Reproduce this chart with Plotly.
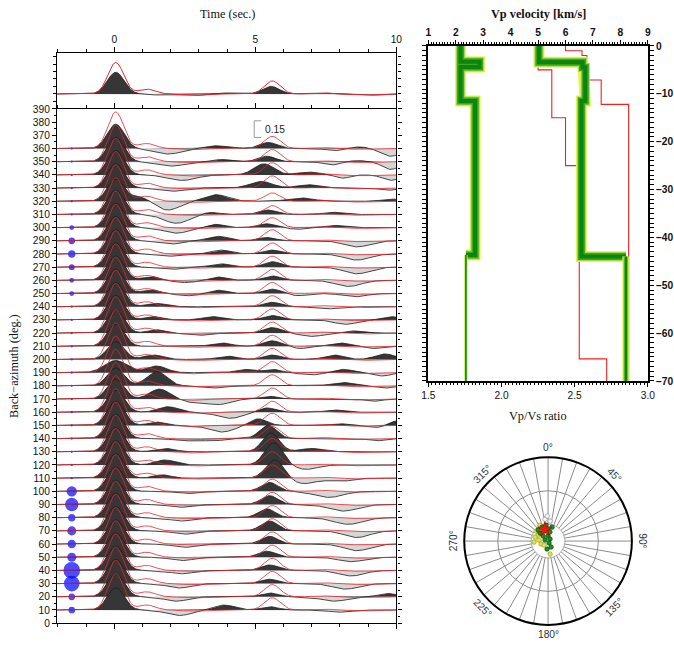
import numpy as np
import plotly.graph_objects as go

# Layout positions below are given in the coordinates of the final 674x648 picture;
# the page shows the figure behind an 8 px body margin inside a 690x664 frame, so
# positions are mapped into figure pixels before use.
W, H = 674, 648
BODY = 8
KX, KY = 690 / 674, 664 / 648
SANS = "Liberation Sans"
SERIF = "Liberation Serif"


def px(x):
    return (x * KX - BODY) / W


def py(y):
    return 1 - (y * KY - BODY) / H


def fs(size):
    return size * KX


# ---------------- receiver-function gather ----------------
T0, T1 = -2.03, 10.0
S = 84.0  # back-azimuth degrees per unit RF amplitude

baz = [360, 350, 340, 330, 320, 310, 300, 290, 280, 270, 260, 250, 240, 230,
       220, 210, 200, 190, 180, 170, 160, 150, 140, 130, 120, 110, 100, 90,
       80, 70, 60, 50, 40, 30, 20, 10]
p_amp = [0.22, 0.22, 0.22, 0.22, 0.20, 0.22, 0.22, 0.22, 0.22, 0.22, 0.22, 0.22,
         0.22, 0.22, 0.21, 0.20, 0.16, 0.11, 0.16, 0.18, 0.20, 0.22, 0.22, 0.22,
         0.22, 0.22, 0.22, 0.22, 0.22, 0.22, 0.22, 0.22, 0.22, 0.22, 0.21, 0.20]
p_width = [0.3] * 17 + [0.4] + [0.3] * 18
p_time = 0.05

# converted / multiple phases on each trace
phase_baz = [360, 360, 360, 360, 360, 360,
             350, 350, 350, 350, 350, 350,
             340, 340, 340, 340, 340,
             330, 330, 330, 330,
             320, 320, 320, 320, 320,
             310, 310, 310, 310,
             300, 300, 300, 300, 300,
             290, 290, 290, 290,
             280, 280, 280, 280,
             270, 270, 270, 270,
             260, 260, 260, 260, 260,
             250, 250, 250, 250, 250, 250,
             240, 240, 240,
             230, 230, 230, 230, 230,
             220, 220, 220, 220, 220,
             210, 210, 210, 210, 210,
             200, 200, 200, 200, 200,
             190, 190, 190, 190, 190, 190,
             180, 180, 180, 180,
             170, 170, 170, 170, 170,
             160, 160, 160, 160,
             150, 150, 150, 150, 150, 150,
             140, 140, 140, 140,
             130, 130, 130,
             120, 120, 120,
             110, 110, 110, 110,
             100, 100, 100,
             90, 90, 90,
             80, 80, 80,
             70, 70, 70,
             60, 60, 60,
             50, 50, 50,
             40, 40, 40,
             30, 30, 30,
             20, 20, 20, 20,
             10, 10, 10, 10]
phase_time = [1.9, 3.6, 5.45, 7.8, 8.7, 9.8,
              2.0, 3.8, 5.4, 7.7, 8.6, 9.8,
              2.4, 5.3, 6.9, 8.1, 9.8,
              2.0, 5.2, 6.9, 9.7,
              0.9, 1.9, 3.6, 6.6, 9.8,
              2.2, 3.4, 5.45, 7.7,
              2.2, 3.6, 5.4, 6.5, 7.8,
              2.0, 3.7, 5.4, 8.6,
              2.0, 3.8, 5.6, 8.6,
              2.0, 3.8, 5.6, 8.6,
              1.3, 2.5, 3.7, 5.6, 8.3,
              1.3, 2.6, 3.7, 5.6, 6.5, 8.5,
              1.5, 5.6, 7.5,
              1.4, 3.5, 5.6, 8.2, 9.8,
              1.5, 3.0, 5.6, 7.0, 8.5,
              3.8, 5.6, 6.6, 8.0, 9.2,
              1.4, 4.0, 5.6, 7.8, 9.6,
              1.5, 4.6, 5.6, 7.0, 8.1, 9.5,
              1.5, 3.5, 8.1, 9.6,
              1.6, 2.8, 3.7, 5.5, 9.2,
              1.9, 4.1, 5.4, 7.8,
              1.5, 3.8, 5.1, 8.0, 9.3, 9.95,
              2.5, 3.5, 5.45, 9.3,
              1.8, 5.55, 7.0,
              1.8, 5.65, 6.8,
              1.7, 5.7, 6.7, 8.0,
              2.6, 5.5, 7.6,
              2.4, 5.5, 8.1,
              2.4, 5.4, 8.3,
              2.5, 5.5, 8.6,
              2.5, 5.5, 8.6,
              2.4, 5.4, 8.4,
              2.4, 5.5, 8.4,
              2.3, 5.5, 8.2,
              2.2, 5.5, 7.8, 9.7,
              2.3, 3.9, 5.5, 8.0]
phase_amp = [-0.05, 0.025, 0.055, -0.02, 0.015, -0.07,
             -0.04, 0.02, 0.05, -0.03, 0.01, -0.07,
             -0.05, 0.10, 0.025, -0.03, -0.05,
             -0.03, 0.06, 0.03, -0.02,
             0.04, -0.08, 0.06, 0.03, 0.02,
             -0.08, 0.02, 0.04, 0.02,
             -0.05, 0.03, 0.035, -0.015, 0.02,
             -0.03, 0.04, 0.03, -0.055,
             -0.02, 0.035, 0.035, -0.055,
             -0.02, 0.03, 0.05, -0.06,
             0.035, -0.02, 0.03, 0.04, -0.055,
             0.035, -0.02, 0.03, 0.04, -0.02, -0.03,
             0.03, 0.04, -0.02,
             0.03, 0.03, 0.04, -0.04, 0.03,
             0.03, -0.02, 0.05, -0.03, 0.02,
             0.03, 0.05, -0.02, 0.03, -0.02,
             0.04, 0.03, 0.04, 0.04, 0.05,
             0.06, 0.03, 0.03, -0.02, 0.03, -0.03,
             0.13, -0.02, 0.03, -0.02,
             0.09, -0.03, -0.05, 0.025, -0.02,
             0.05, -0.055, 0.04, 0.02,
             0.03, -0.06, 0.06, 0.015, -0.02, 0.04,
             -0.02, -0.02, 0.12, -0.02,
             0.03, 0.17, 0.03,
             0.045, 0.20, -0.04,
             0.03, 0.17, -0.05, -0.03,
             -0.02, 0.08, -0.055,
             -0.025, 0.08, -0.06,
             -0.03, 0.08, -0.06,
             -0.03, 0.09, -0.06,
             -0.03, 0.07, -0.06,
             -0.03, 0.055, -0.04,
             -0.03, 0.05, -0.05,
             -0.04, 0.04, -0.05,
             -0.04, 0.035, -0.04, 0.03,
             -0.05, 0.045, 0.03, -0.02]
phase_width = [0.5, 0.4, 0.3, 0.3, 0.3, 0.35,
               0.5, 0.3, 0.3, 0.3, 0.3, 0.3,
               0.5, 0.35, 0.4, 0.25, 0.3,
               0.4, 0.4, 0.4, 0.3,
               0.3, 0.4, 0.4, 0.45, 0.3,
               0.45, 0.3, 0.3, 0.3,
               0.45, 0.3, 0.3, 0.3, 0.3,
               0.4, 0.35, 0.3, 0.45,
               0.4, 0.35, 0.3, 0.45,
               0.4, 0.35, 0.3, 0.45,
               0.3, 0.4, 0.3, 0.3, 0.45,
               0.3, 0.4, 0.3, 0.3, 0.3, 0.4,
               0.35, 0.3, 0.4,
               0.3, 0.35, 0.3, 0.4, 0.3,
               0.3, 0.4, 0.3, 0.4, 0.3,
               0.35, 0.3, 0.3, 0.35, 0.3,
               0.35, 0.35, 0.3, 0.35, 0.35,
               0.35, 0.3, 0.3, 0.4, 0.35, 0.3,
               0.35, 0.4, 0.4, 0.3,
               0.35, 0.35, 0.4, 0.3, 0.3,
               0.35, 0.45, 0.3, 0.3,
               0.3, 0.45, 0.3, 0.3, 0.3, 0.25,
               0.4, 0.4, 0.3, 0.3,
               0.35, 0.3, 0.4,
               0.35, 0.32, 0.4,
               0.3, 0.32, 0.45, 0.4,
               0.4, 0.3, 0.5,
               0.4, 0.3, 0.5,
               0.4, 0.3, 0.5,
               0.4, 0.3, 0.45,
               0.4, 0.3, 0.45,
               0.4, 0.3, 0.45,
               0.4, 0.3, 0.45,
               0.4, 0.3, 0.45,
               0.4, 0.3, 0.45, 0.3,
               0.45, 0.35, 0.3, 0.4]

# predicted (model) traces
red_time = [0.05, 1.15, 2.8, 7.3, 8.8]
red_amp = [0.33, 0.045, -0.01, 0.01, -0.008]
red_width = [0.28, 0.3, 0.4, 0.3, 0.4]
red_ps_time = 5.6
red_ps_amp = [0.11, 0.11, 0.11, 0.11, 0.075, 0.08, 0.09, 0.1, 0.1, 0.1, 0.1, 0.1,
              0.1, 0.1, 0.1, 0.1, 0.1, 0.1, 0.1, 0.1, 0.1, 0.11, 0.11, 0.12,
              0.12, 0.12, 0.11, 0.11, 0.11, 0.11, 0.11, 0.11, 0.11, 0.11, 0.11, 0.11]

# number of events per back-azimuth bin
event_count = [0, 0, 0, 0, 0, 0, 1, 3, 4, 2, 1, 1, 0, 0, 0, 0, 0, 0, 0, 0, 0, 0,
               0, 0, 0, 0, 10, 19, 4, 7, 6, 7, 32, 27, 3, 3]

# stacked trace (top panel)
stack_time = [0.05, 1.6, 2.8, 3.8, 5.55, 7.3, 9.0]
stack_amp = [0.20, -0.01, -0.015, 0.01, 0.07, 0.008, -0.012]
stack_width = [0.3, 0.3, 0.4, 0.4, 0.3, 0.4, 0.5]
stack_red_time = [0.05, 1.15, 2.8, 5.6, 7.3, 8.8]
stack_red_amp = [0.29, 0.045, -0.012, 0.12, 0.012, -0.01]
stack_red_width = [0.28, 0.3, 0.4, 0.28, 0.3, 0.4]

# ---------------- velocity model ----------------
vp_depth = [0, -3.4, -4.5, -11.5, -44, -70]
vp_value = [5.03, 6.62, 6.72, 6.58, 8.2]
vpvs_depth = [0, -3.3, -4.4, -11.5, -43.7, -70]
vpvs_value = [1.72, 1.85, 1.72, 1.82, 1.757]
lo_depth = [0, -5, -15, -25, -65.4, -70]
lo_value = [5.0, 5.5, 6.0, 6.5, 7.5]
hi_depth = [0, -1, -2, -7.1, -12.2, -70]
hi_value = [6.0, 6.6, 6.78, 7.3, 8.3]

# ---------------- station / event map ----------------
green_r = [0.181, 0.128, 0.135, 0.192, 0.143, 0.110, 0.084, 0.060, 0.034, 0.038,
           0.027, 0.080, 0.096, 0.177, 0.173]
green_theta = [337, 338, 315, 353, 0, 12, 315, 0, 45, 288, 153, 153, 187, 318, 16]
yellow_r = [0.186, 0.139, 0.162, 0.108, 0.091, 0.157, 0.067, 0.167, 0.213]
yellow_theta = [310, 301, 287, 276, 247, 171, 225, 266, 333]
grey_r = [0.264, 0.298, 0.239]
grey_theta = [352, 358, 6]
star_r = [0.145]
star_theta = [344]
compass_labels = ["0°", "45°", "90°", "135°", "180°", "225°", "270°", "315°"]
compass_angles = [0, 45, 90, 135, 180, 225, 270, 315]

fig = go.Figure()
t = np.linspace(T0, T1, 900)


def pulses(times, amps, widths):
    tt = t[:, None]
    a = np.asarray(amps, float)
    c = np.asarray(times, float)
    w = np.asarray(widths, float)
    return (a * np.exp(-0.5 * ((tt - c) / w) ** 2)).sum(axis=1)


def add_fills(base, amp, scale, xa, ya):
    xs = np.concatenate([t, t[::-1]])
    lo = base + scale * np.minimum(amp, 0)
    hi = base + scale * np.maximum(amp, 0)
    flat = np.full_like(t, base)
    fig.add_trace(go.Scatter(x=xs, y=np.concatenate([lo, flat[::-1]]), fill="toself",
                             fillcolor="#d6d6d6", mode="lines", line=dict(width=0),
                             xaxis=xa, yaxis=ya, hoverinfo="skip"))
    fig.add_trace(go.Scatter(x=xs, y=np.concatenate([hi, flat[::-1]]), fill="toself",
                             fillcolor="#363636", mode="lines", line=dict(width=0),
                             xaxis=xa, yaxis=ya, hoverinfo="skip"))


pb = np.asarray(phase_baz)
black_x, black_y, red_x, red_y = [], [], [], []
for i, b in enumerate(baz):
    sel = pb == b
    amp = pulses([p_time] + list(np.asarray(phase_time)[sel]),
                 [p_amp[i]] + list(np.asarray(phase_amp)[sel]),
                 [p_width[i]] + list(np.asarray(phase_width)[sel]))
    add_fills(b, amp, S, "x2", "y2")
    black_x += list(t) + [None]
    black_y += list(b + S * amp) + [None]
    ramp = pulses(red_time + [red_ps_time], red_amp + [red_ps_amp[i]], red_width + [0.28])
    red_x += list(t) + [None]
    red_y += list(b + S * ramp) + [None]

fig.add_trace(go.Scatter(x=black_x, y=black_y, mode="lines", line=dict(color="#1e1e1e", width=0.8),
                         xaxis="x2", yaxis="y2", hoverinfo="skip"))

# event-count circles
cnt = np.asarray(event_count, float)
fig.add_trace(go.Scatter(x=[-1.51] * len(baz), y=baz, mode="markers",
                         marker=dict(size=(2.2 + 2.5 * np.sqrt(cnt)) * KX, color="#0000ff",
                                     line=dict(width=0)),
                         xaxis="x2", yaxis="y2", hoverinfo="skip"))

fig.add_trace(go.Scatter(x=red_x, y=red_y, mode="lines", line=dict(color="#e8252d", width=0.8),
                         xaxis="x2", yaxis="y2", hoverinfo="skip"))

# stacked trace
samp = pulses(stack_time, stack_amp, stack_width)
add_fills(0.0, samp, 1.0, "x", "y")
fig.add_trace(go.Scatter(x=t, y=samp, mode="lines", line=dict(color="#1e1e1e", width=0.8),
                         xaxis="x", yaxis="y", hoverinfo="skip"))
fig.add_trace(go.Scatter(x=t, y=pulses(stack_red_time, stack_red_amp, stack_red_width), mode="lines",
                         line=dict(color="#e8252d", width=1.0), xaxis="x", yaxis="y", hoverinfo="skip"))

# amplitude scale bar
bar_t, bar_base, bar_amp = 4.96, 368.4, 0.15
fig.add_trace(go.Scatter(x=[bar_t + 0.25, bar_t, bar_t, bar_t + 0.25],
                         y=[bar_base, bar_base, bar_base + S * bar_amp, bar_base + S * bar_amp],
                         mode="lines", line=dict(color="#9a9a9a", width=1), xaxis="x2", yaxis="y2",
                         hoverinfo="skip"))


# ---------------- velocity profiles ----------------
def step(depths, values):
    d = np.repeat(np.asarray(depths, float), 2)[1:-1]
    v = np.repeat(np.asarray(values, float), 2)
    return v, d


for dep, val in ((lo_depth, lo_value), (hi_depth, hi_value)):
    v, d = step(dep, val)
    fig.add_trace(go.Scatter(x=v, y=d, mode="lines", line=dict(color="#f02020", width=1.1),
                             xaxis="x3", yaxis="y3", hoverinfo="skip"))

band_upper = [("#eef25a", 11), ("#a6d83c", 9), ("#3aa62a", 7), ("#0b850b", 4)]
band_lower_vp = [("#eef25a", 7), ("#7ccc33", 5), ("#0b850b", 2.5)]
band_lower_vpvs = [("#c9ea6a", 3.5), ("#0b850b", 1.6)]

for dep, val, xa, lower in ((vpvs_depth, vpvs_value, "x4", band_lower_vpvs),
                            (vp_depth, vp_value, "x3", band_lower_vp)):
    v, d = step(dep, val)
    vu, du = v[:-1], d[:-1]
    vl, dl = v[-2:], d[-2:]
    for col, wdt in band_upper:
        fig.add_trace(go.Scatter(x=vu, y=du, mode="lines", line=dict(color=col, width=wdt),
                                 xaxis=xa, yaxis="y3", hoverinfo="skip"))
    for col, wdt in lower:
        fig.add_trace(go.Scatter(x=vl, y=dl, mode="lines", line=dict(color=col, width=wdt),
                                 xaxis=xa, yaxis="y3", hoverinfo="skip"))

# ---------------- polar map ----------------
ring = np.linspace(0, 360, 181)
fig.add_trace(go.Scatterpolar(r=[0.2] * len(ring), theta=ring, mode="lines", fill="toself",
                              fillcolor="white", line=dict(color="#8c8c8c", width=0.8),
                              subplot="polar", hoverinfo="skip"))
fig.add_trace(go.Scatterpolar(r=grey_r, theta=grey_theta, mode="markers",
                              marker=dict(size=4.5, color="white", line=dict(color="#9a9a9a", width=0.8)),
                              subplot="polar", hoverinfo="skip"))
fig.add_trace(go.Scatterpolar(r=yellow_r, theta=yellow_theta, mode="markers",
                              marker=dict(size=4.5, color="#e4e830", line=dict(color="#8a8a50", width=0.6)),
                              subplot="polar", hoverinfo="skip"))
fig.add_trace(go.Scatterpolar(r=green_r, theta=green_theta, mode="markers",
                              marker=dict(size=4.5, color="#1f8f1f", line=dict(color="#0c3a0c", width=0.6)),
                              subplot="polar", hoverinfo="skip"))
fig.add_trace(go.Scatterpolar(r=star_r, theta=star_theta, mode="markers",
                              marker=dict(symbol="star", size=11, color="#ff1010",
                                          line=dict(color="#a00000", width=0.5)),
                              subplot="polar", hoverinfo="skip"))

# ---------------- layout ----------------
frame = dict(showline=True, linecolor="black", linewidth=1.3, ticks="outside", tickcolor="black",
             showgrid=False, zeroline=False)
small = dict(family=SANS, size=fs(10), color="#111")
bold = dict(family=SANS, size=fs(10), color="#111", weight="bold")


def note(text, x, y, size=12, family=SERIF, **kw):
    return dict(text=text, x=x, y=y, xref="paper", yref="paper", showarrow=False,
                xanchor="center", yanchor="middle",
                font=dict(family=family, size=fs(size), color=kw.pop("color", "#111"),
                          weight=kw.pop("weight", "normal")), **kw)


cx, cy, rp, rl = 550, 540, 84, 95
annotations = [
    note("Time (sec.)", px(229), py(17)),
    note("Back−azimuth (deg.)", px(15), py(366), textangle=-90),
    note("Vp velocity [km/s]", px(540), py(17), weight="bold"),
    note("Vp/Vs ratio", px(540), py(416)),
    dict(text="0.15", x=bar_t + 0.3, y=bar_base + S * bar_amp / 2, xref="x2", yref="y2",
         xanchor="left", yanchor="middle", showarrow=False,
         font=dict(family=SANS, size=fs(10), color="#222")),
]
for lab, ang in zip(compass_labels, compass_angles):
    a = np.radians(ang)
    rr = rl - 2 * abs(np.cos(a))
    if ang <= 90:
        rot = ang
    elif ang < 270:
        rot = ang - 180
    else:
        rot = ang - 360
    annotations.append(note(lab, px(cx + rr * np.sin(a)), py(cy - rr * np.cos(a)), size=10,
                            family=SANS, color="#333", textangle=rot))

fig.update_layout(
    width=W, height=H, autosize=False, margin=dict(l=0, r=0, t=0, b=0, pad=0),
    paper_bgcolor="white", plot_bgcolor="white", showlegend=False,
    xaxis=dict(domain=[px(58), px(398)], range=[T0, T1], anchor="y", side="top",
               tickvals=[0, 5, 10], ticklen=5, mirror=False, tickfont=small,
               minor=dict(dtick=1, ticklen=3, tickcolor="black", showgrid=False), **frame),
    yaxis=dict(domain=[py(111), py(55.5)], range=[-0.138, 0.377], anchor="x",
               showticklabels=False, tick0=0, dtick=0.069, ticklen=3, mirror="allticks", **frame),
    xaxis2=dict(domain=[px(58), px(398)], range=[T0, T1], anchor="y2", tickvals=[0, 5, 10],
                showticklabels=False, ticklen=5, mirror="allticks",
                minor=dict(dtick=1, ticklen=3, tickcolor="black", showgrid=False), **frame),
    yaxis2=dict(domain=[py(621.5), py(111)], range=[0, 390], anchor="x2", dtick=10, ticklen=4,
                mirror="allticks", tickfont=small,
                minor=dict(dtick=5, ticklen=2, tickcolor="black", showgrid=False), **frame),
    xaxis3=dict(domain=[px(430), px(650)], range=[1, 9], anchor="y3", side="top", dtick=1,
                ticklen=4, tickfont=bold,
                minor=dict(dtick=0.1, ticklen=2, tickcolor="black", showgrid=False),
                showline=True, linecolor="black", linewidth=2, ticks="outside",
                tickcolor="black", showgrid=False, zeroline=False),
    xaxis4=dict(overlaying="x3", anchor="y3", side="bottom", range=[1.5, 3.0],
                tickvals=[1.5, 2.0, 2.5, 3.0], tickformat=".1f", ticklen=4, tickfont=small,
                minor=dict(dtick=0.025, ticklen=2, tickcolor="black", showgrid=False),
                showline=True, linecolor="black", linewidth=2, ticks="outside",
                tickcolor="black", showgrid=False, zeroline=False),
    yaxis3=dict(domain=[py(381), py(48.5)], range=[-70, 0], anchor="x3", side="right", dtick=10,
                ticklen=4, tickfont=bold, mirror="allticks",
                minor=dict(dtick=1, ticklen=2, tickcolor="black", showgrid=False),
                showline=True, linecolor="black", linewidth=2, ticks="outside",
                tickcolor="black", showgrid=False, zeroline=False),
    polar=dict(domain=dict(x=[px(cx - rp), px(cx + rp)], y=[py(cy + rp), py(cy - rp)]),
               bgcolor="white",
               angularaxis=dict(rotation=90, direction="clockwise", dtick=10,
                                showticklabels=False, ticks="", showline=True, linecolor="black",
                                linewidth=2, showgrid=True, gridcolor="#8c8c8c", gridwidth=0.7),
               radialaxis=dict(range=[0, 1], tickvals=[0.6], showticklabels=False, ticks="",
                               showline=False, showgrid=True, gridcolor="#8c8c8c",
                               gridwidth=0.7)),
    annotations=annotations,
)

fig.write_html("out.html")
